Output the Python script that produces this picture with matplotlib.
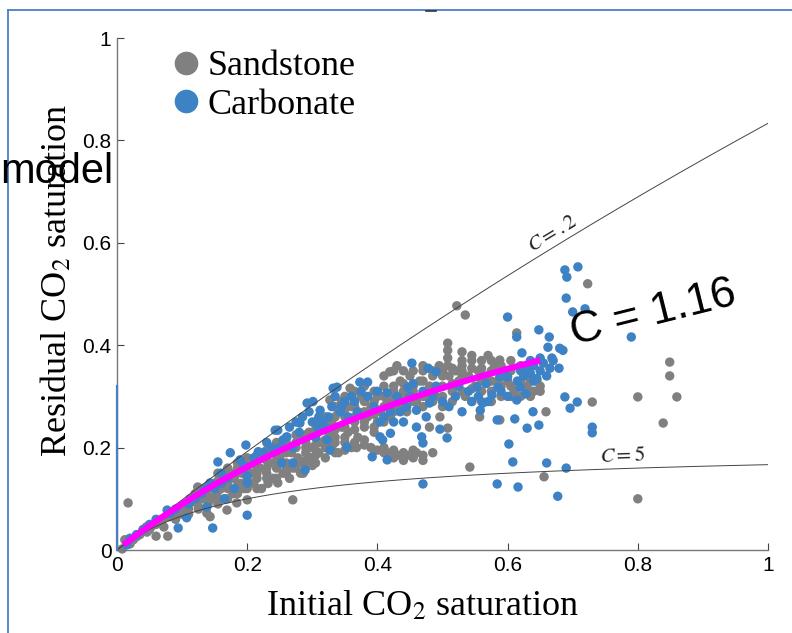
import numpy as np
import matplotlib
matplotlib.use('Agg')
import matplotlib.pyplot as plt
from matplotlib.lines import Line2D

plt.rcParams['mathtext.fontset'] = 'stix'

# Sandstone samples: (initial CO2 saturation, residual CO2 saturation)
sandstone = [
    (0.008, 0.002), (0.012, 0.02), (0.017, 0.092), (0.02, 0.012), (0.025, 0.02),
    (0.03, 0.026), (0.035, 0.03), (0.04, 0.039), (0.045, 0.045), (0.046, 0.035),
    (0.05, 0.04), (0.055, 0.048), (0.06, 0.027), (0.06, 0.05), (0.065, 0.055),
    (0.07, 0.06), (0.072, 0.045), (0.078, 0.027), (0.08, 0.065), (0.085, 0.07),
    (0.09, 0.06), (0.09, 0.075), (0.095, 0.08), (0.1, 0.07), (0.1, 0.085),
    (0.105, 0.09), (0.11, 0.08), (0.112, 0.1), (0.118, 0.095), (0.12, 0.11),
    (0.124, 0.123), (0.125, 0.085), (0.13, 0.1), (0.135, 0.115), (0.138, 0.072),
    (0.14, 0.12), (0.143, 0.065), (0.145, 0.1), (0.15, 0.13), (0.152, 0.11),
    (0.155, 0.09), (0.16, 0.12), (0.162, 0.14), (0.165, 0.1), (0.169, 0.078),
    (0.17, 0.13), (0.175, 0.15), (0.178, 0.11), (0.18, 0.14), (0.184, 0.092),
    (0.185, 0.16), (0.19, 0.13), (0.192, 0.15), (0.195, 0.12), (0.2, 0.098),
    (0.2, 0.14), (0.2, 0.165), (0.205, 0.15), (0.21, 0.13), (0.21, 0.17),
    (0.215, 0.14), (0.22, 0.16), (0.222, 0.12), (0.225, 0.18), (0.23, 0.15),
    (0.232, 0.13), (0.235, 0.17), (0.24, 0.19), (0.24, 0.14), (0.245, 0.16),
    (0.247, 0.131), (0.25, 0.18), (0.252, 0.2), (0.255, 0.15), (0.26, 0.17),
    (0.26, 0.21), (0.265, 0.14), (0.268, 0.19), (0.27, 0.098), (0.27, 0.16),
    (0.275, 0.2), (0.278, 0.18), (0.28, 0.22), (0.282, 0.15), (0.285, 0.17),
    (0.286, 0.15), (0.29, 0.19), (0.29, 0.21), (0.295, 0.23), (0.298, 0.18),
    (0.3, 0.2), (0.3, 0.165), (0.305, 0.22), (0.31, 0.19), (0.31, 0.24),
    (0.315, 0.21), (0.32, 0.18), (0.32, 0.26), (0.325, 0.23), (0.327, 0.293),
    (0.33, 0.2), (0.33, 0.25), (0.335, 0.22), (0.34, 0.27), (0.34, 0.19),
    (0.345, 0.29), (0.345, 0.24), (0.35, 0.21), (0.35, 0.26), (0.355, 0.23),
    (0.358, 0.316), (0.36, 0.28), (0.36, 0.2), (0.365, 0.25), (0.368, 0.2),
    (0.37, 0.27), (0.37, 0.22), (0.375, 0.3), (0.38, 0.24), (0.38, 0.205),
    (0.385, 0.26), (0.39, 0.28), (0.39, 0.2), (0.395, 0.23), (0.4, 0.3),
    (0.4, 0.25), (0.4, 0.195), (0.405, 0.27), (0.41, 0.19), (0.41, 0.32),
    (0.415, 0.29), (0.419, 0.348), (0.42, 0.26), (0.42, 0.19), (0.425, 0.31),
    (0.43, 0.36), (0.43, 0.185), (0.43, 0.28), (0.435, 0.33), (0.44, 0.3),
    (0.44, 0.19), (0.445, 0.27), (0.45, 0.34), (0.45, 0.185), (0.455, 0.31),
    (0.46, 0.29), (0.46, 0.19), (0.465, 0.33), (0.47, 0.35), (0.47, 0.185),
    (0.475, 0.3), (0.48, 0.32), (0.48, 0.24), (0.485, 0.34), (0.49, 0.3),
    (0.495, 0.36), (0.496, 0.26), (0.5, 0.32), (0.5, 0.28), (0.508, 0.36),
    (0.508, 0.375), (0.508, 0.39), (0.508, 0.404), (0.508, 0.238), (0.51, 0.34),
    (0.515, 0.31), (0.52, 0.35), (0.522, 0.477), (0.525, 0.33), (0.53, 0.387),
    (0.53, 0.36), (0.535, 0.459), (0.535, 0.3), (0.54, 0.34), (0.542, 0.162),
    (0.545, 0.37), (0.55, 0.32), (0.555, 0.35), (0.557, 0.26), (0.56, 0.29),
    (0.56, 0.37), (0.565, 0.34), (0.57, 0.38), (0.575, 0.31), (0.58, 0.36),
    (0.585, 0.33), (0.588, 0.371), (0.588, 0.254), (0.59, 0.3), (0.595, 0.35),
    (0.6, 0.33), (0.605, 0.37), (0.61, 0.31), (0.614, 0.424), (0.62, 0.3),
    (0.625, 0.34), (0.63, 0.32), (0.64, 0.31), (0.645, 0.33), (0.656, 0.143),
    (0.659, 0.27), (0.723, 0.52), (0.73, 0.289), (0.8, 0.299), (0.8, 0.1),
    (0.839, 0.248), (0.849, 0.367), (0.849, 0.34), (0.86, 0.299),
    # denser middle of the sandstone cloud
    (0.11, 0.07), (0.11, 0.09), (0.125, 0.08), (0.125, 0.1), (0.125, 0.115),
    (0.14, 0.09), (0.14, 0.105), (0.14, 0.125), (0.155, 0.1), (0.155, 0.115),
    (0.155, 0.135), (0.155, 0.15), (0.17, 0.1), (0.17, 0.12), (0.17, 0.145),
    (0.17, 0.16), (0.185, 0.11), (0.185, 0.125), (0.185, 0.15), (0.185, 0.17),
    (0.2, 0.12), (0.2, 0.155), (0.2, 0.18), (0.215, 0.12), (0.215, 0.15),
    (0.215, 0.16), (0.215, 0.185), (0.23, 0.14), (0.23, 0.16), (0.23, 0.175),
    (0.23, 0.195), (0.245, 0.14), (0.245, 0.175), (0.245, 0.195), (0.245, 0.21),
    (0.26, 0.15), (0.26, 0.16), (0.26, 0.19), (0.26, 0.2), (0.275, 0.16),
    (0.275, 0.17), (0.275, 0.21), (0.275, 0.225), (0.29, 0.165), (0.29, 0.175),
    (0.29, 0.2), (0.29, 0.225), (0.305, 0.17), (0.305, 0.185), (0.305, 0.205),
    (0.305, 0.235), (0.305, 0.25), (0.32, 0.2), (0.32, 0.215), (0.32, 0.235),
    (0.32, 0.25), (0.335, 0.19), (0.335, 0.21), (0.335, 0.235), (0.335, 0.26),
    (0.335, 0.28), (0.35, 0.195), (0.35, 0.22), (0.35, 0.24), (0.35, 0.275),
    (0.35, 0.3), (0.365, 0.21), (0.365, 0.235), (0.365, 0.26), (0.365, 0.28),
    (0.365, 0.31), (0.38, 0.215), (0.38, 0.25), (0.38, 0.27), (0.38, 0.29),
    (0.38, 0.32), (0.395, 0.195), (0.395, 0.24), (0.395, 0.265), (0.395, 0.29),
    (0.395, 0.31), (0.41, 0.2), (0.41, 0.25), (0.41, 0.28), (0.41, 0.3),
    (0.41, 0.34), (0.425, 0.18), (0.425, 0.195), (0.425, 0.27), (0.425, 0.295),
    (0.425, 0.32), (0.425, 0.35), (0.44, 0.175), (0.44, 0.28), (0.44, 0.31),
    (0.44, 0.325), (0.44, 0.35), (0.455, 0.18), (0.455, 0.195), (0.455, 0.29),
    (0.455, 0.32), (0.455, 0.35), (0.47, 0.175), (0.47, 0.28), (0.47, 0.3),
    (0.47, 0.33), (0.47, 0.36), (0.485, 0.19), (0.485, 0.29), (0.485, 0.31),
    (0.485, 0.35), (0.5, 0.3), (0.5, 0.34), (0.5, 0.35), (0.515, 0.29),
    (0.515, 0.325), (0.515, 0.355), (0.53, 0.31), (0.53, 0.34), (0.53, 0.35),
    (0.53, 0.37), (0.545, 0.29), (0.545, 0.315), (0.545, 0.355), (0.545, 0.38),
    (0.56, 0.31), (0.56, 0.33), (0.56, 0.355), (0.575, 0.29), (0.575, 0.33),
    (0.575, 0.35), (0.575, 0.37), (0.59, 0.32), (0.59, 0.34), (0.59, 0.36),
    (0.605, 0.3), (0.605, 0.32), (0.605, 0.35), (0.62, 0.32), (0.62, 0.33),
    (0.62, 0.36), (0.635, 0.3), (0.635, 0.33), (0.65, 0.31), (0.65, 0.32),
]

# Carbonate samples
carbonate = [
    (0.015, 0.01), (0.02, 0.023), (0.03, 0.03), (0.04, 0.04), (0.05, 0.05),
    (0.06, 0.06), (0.077, 0.078), (0.082, 0.072), (0.09, 0.08), (0.094, 0.043),
    (0.107, 0.063), (0.11, 0.09), (0.12, 0.1), (0.13, 0.11), (0.138, 0.084),
    (0.143, 0.131), (0.147, 0.043), (0.15, 0.12), (0.155, 0.172), (0.16, 0.13),
    (0.165, 0.1), (0.17, 0.14), (0.174, 0.19), (0.18, 0.12), (0.189, 0.176),
    (0.195, 0.165), (0.198, 0.205), (0.2, 0.068), (0.2, 0.145), (0.2, 0.131),
    (0.217, 0.192), (0.238, 0.2), (0.243, 0.234), (0.247, 0.234), (0.25, 0.2),
    (0.253, 0.17), (0.26, 0.22), (0.261, 0.221), (0.27, 0.17), (0.27, 0.2),
    (0.28, 0.23), (0.281, 0.248), (0.289, 0.156), (0.292, 0.287), (0.3, 0.25),
    (0.301, 0.29), (0.309, 0.238), (0.31, 0.26), (0.312, 0.273), (0.32, 0.24),
    (0.323, 0.215), (0.327, 0.195), (0.33, 0.28), (0.332, 0.316), (0.338, 0.318),
    (0.343, 0.27), (0.35, 0.29), (0.353, 0.201), (0.36, 0.3), (0.369, 0.27),
    (0.373, 0.328), (0.385, 0.328), (0.392, 0.182), (0.4, 0.31), (0.404, 0.25),
    (0.404, 0.221), (0.408, 0.215), (0.415, 0.307), (0.415, 0.176), (0.42, 0.228),
    (0.42, 0.27), (0.43, 0.3), (0.44, 0.25), (0.445, 0.28), (0.447, 0.318),
    (0.453, 0.365), (0.455, 0.325), (0.46, 0.273), (0.468, 0.221), (0.47, 0.209),
    (0.47, 0.129), (0.47, 0.31), (0.478, 0.355), (0.48, 0.287), (0.49, 0.348),
    (0.49, 0.32), (0.496, 0.236), (0.5, 0.29), (0.507, 0.219), (0.52, 0.3),
    (0.53, 0.27), (0.54, 0.31), (0.553, 0.318), (0.558, 0.273), (0.562, 0.287),
    (0.567, 0.325), (0.576, 0.303), (0.584, 0.254), (0.584, 0.129), (0.585, 0.318),
    (0.588, 0.338), (0.6, 0.455), (0.6, 0.338), (0.602, 0.207), (0.608, 0.172),
    (0.611, 0.256), (0.614, 0.416), (0.614, 0.293), (0.616, 0.123), (0.619, 0.318),
    (0.622, 0.385), (0.625, 0.34), (0.628, 0.305), (0.63, 0.355), (0.63, 0.238),
    (0.635, 0.345), (0.635, 0.37), (0.639, 0.27), (0.64, 0.36), (0.64, 0.33),
    (0.645, 0.335), (0.648, 0.43), (0.648, 0.244), (0.65, 0.35), (0.65, 0.375),
    (0.655, 0.365), (0.66, 0.34), (0.66, 0.17), (0.662, 0.396), (0.664, 0.416),
    (0.665, 0.355), (0.668, 0.375), (0.67, 0.37), (0.677, 0.105), (0.679, 0.355),
    (0.68, 0.394), (0.685, 0.39), (0.688, 0.547), (0.688, 0.299), (0.69, 0.492),
    (0.69, 0.16), (0.691, 0.533), (0.696, 0.277), (0.7, 0.465), (0.707, 0.289),
    (0.708, 0.553), (0.719, 0.471), (0.73, 0.24), (0.73, 0.229), (0.79, 0.416),
    (0.135, 0.12), (0.16, 0.15), (0.21, 0.18), (0.225, 0.19), (0.23, 0.21),
    (0.255, 0.215), (0.265, 0.24), (0.275, 0.25), (0.285, 0.26), (0.295, 0.27),
    (0.305, 0.22), (0.315, 0.25), (0.325, 0.26), (0.335, 0.3), (0.345, 0.28),
    (0.355, 0.26), (0.365, 0.29), (0.375, 0.31), (0.385, 0.3), (0.395, 0.28),
    (0.41, 0.26), (0.425, 0.25), (0.435, 0.27), (0.45, 0.3), (0.46, 0.24),
    (0.475, 0.26), (0.485, 0.3), (0.51, 0.28), (0.525, 0.32), (0.545, 0.29),
    (0.555, 0.3), (0.57, 0.29), (0.59, 0.31), (0.6, 0.3), (0.615, 0.33),
    (0.62, 0.35),
]

# Land trapping model constants
land_c = [0.2, 5]
land_c_labels = [r'$C = .2$', r'$C = 5$']
fit_c = 1.16
fit_si_max = 0.65

fig = plt.figure(figsize=(7.92, 6.33), dpi=100)
ax = fig.add_axes([117 / 792, 1 - 550 / 633, 651 / 792, 512 / 633])

ss = np.array(sandstone)
cb = np.array(carbonate)
ax.scatter(ss[:, 0], ss[:, 1], s=46, color='#808080', edgecolors='none', zorder=2, clip_on=False)
ax.scatter(cb[:, 0], cb[:, 1], s=46, color='#3d82c4', edgecolors='none', zorder=3, clip_on=False)

si = np.linspace(0, 1, 200)
for c in land_c:
    ax.plot(si, si / (1 + c * si), color='#444444', lw=0.7, zorder=4)

si_fit = np.linspace(0.01, fit_si_max, 100)
ax.plot(si_fit, si_fit / (1 + fit_c * si_fit), color='#ff00ff', lw=4.5,
        solid_capstyle='butt', zorder=5)

ax.text(0.668, 0.618, land_c_labels[0], fontsize=15, rotation=31,
        ha='center', va='center', color='#222222')
ax.text(0.776, 0.186, land_c_labels[1], fontsize=15, rotation=2,
        ha='center', va='center', color='#222222')

ax.set_xlim(0, 1)
ax.set_ylim(0, 1)
ticks = [0, 0.2, 0.4, 0.6, 0.8, 1]
tick_labels = ['0', '0.2', '0.4', '0.6', '0.8', '1']
ax.set_xticks(ticks)
ax.set_xticklabels(tick_labels)
ax.set_yticks(ticks)
ax.set_yticklabels(tick_labels)
for lab in ax.get_xticklabels() + ax.get_yticklabels():
    lab.set_family('Liberation Sans')
    lab.set_fontsize(15)
ax.tick_params(direction='in', length=5, width=0.8, color='#444444', pad=4)

for side in ['top', 'right']:
    ax.spines[side].set_visible(False)
for side in ['left', 'bottom']:
    ax.spines[side].set_color('#777777')
    ax.spines[side].set_linewidth(1.0)

ax.set_xlabel('Initial CO$_2$ saturation', family='Liberation Serif', fontsize=26)
ax.xaxis.set_label_coords(0.47, -0.11)
ax.xaxis.label.set_va('center')
ax.set_ylabel('Residual CO$_2$ saturation', family='Liberation Serif', fontsize=26)
ax.yaxis.set_label_coords(-0.092, 0.527)
ax.yaxis.label.set_va('center')

handles = [
    Line2D([], [], marker='o', ls='none', color='#808080', markersize=16, label='Sandstone'),
    Line2D([], [], marker='o', ls='none', color='#3d82c4', markersize=16, label='Carbonate'),
]
ax.legend(handles=handles, loc='upper left', bbox_to_anchor=(0.05, 1.012), frameon=False,
          prop={'family': 'Liberation Serif', 'size': 26}, handletextpad=0.1,
          labelspacing=0.15, handlelength=1.0, borderpad=0)

# slide overlay items
fig.text(0.0, 1 - 183 / 633, 'model', family='Liberation Sans', fontsize=30,
         ha='left', va='baseline')
fig.text(574 / 792, 1 - 345 / 633, 'C = 1.16', family='Liberation Sans', fontsize=32,
         rotation=14, rotation_mode='anchor', ha='left', va='baseline')

frame_col = '#4a7fc8'
fig.add_artist(Line2D([8 / 792, 8 / 792], [0, 1 - 10 / 633], color=frame_col, lw=1.3))
fig.add_artist(Line2D([8 / 792, 1], [1 - 10 / 633, 1 - 10 / 633], color=frame_col, lw=1.3))
fig.add_artist(Line2D([117 / 792, 117 / 792], [1 - 550 / 633, 1 - 386 / 633], color=frame_col, lw=1.6))
fig.add_artist(Line2D([426 / 792, 436 / 792], [1 - 11 / 633, 1 - 11 / 633], color='#333333', lw=1.2))

fig.savefig('out.png', dpi=100)
